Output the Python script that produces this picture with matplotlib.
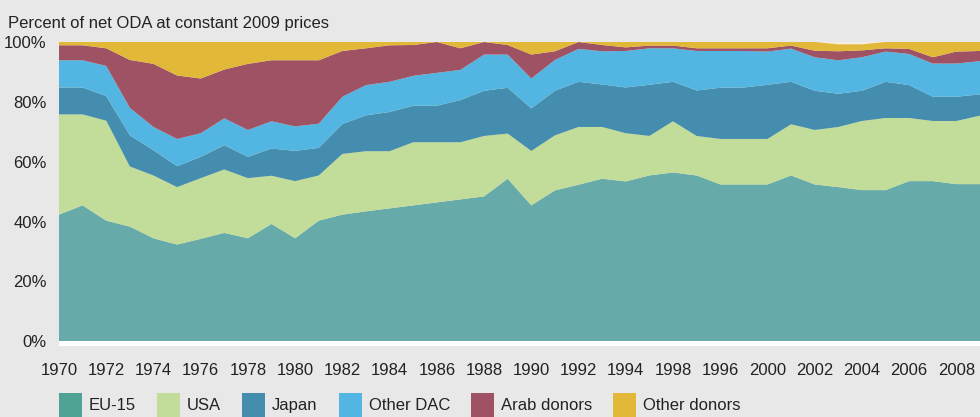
import numpy as np
import matplotlib.pyplot as plt
from matplotlib.patches import Patch

plt.rcParams['font.family'] = ['Liberation Sans', 'DejaVu Sans']

years = list(range(1970, 2010))

# shares of net ODA (percent)
eu15 = [42.3, 45.4, 40.3, 38.3, 34.4, 32.3, 34.2, 36.2, 34.4, 39.2,
        34.4, 40.3, 42.3, 43.4, 44.4, 45.4, 46.4, 47.4, 48.4, 54.3,
        45.4, 50.4, 52.3, 54.3, 53.4, 55.4, 56.4, 55.4, 52.4, 52.4,
        52.4, 55.4, 52.4, 51.5, 50.5, 50.5, 53.5, 53.5, 52.5, 52.5]
usa = [33.5, 30.4, 33.4, 20.1, 21.0, 19.2, 20.3, 21.2, 20.1, 16.1,
       19.1, 15.1, 20.3, 20.1, 19.1, 21.1, 20.1, 19.1, 20.2, 15.1,
       18.2, 18.4, 19.3, 17.3, 16.1, 13.2, 17.1, 13.2, 15.2, 15.2,
       15.2, 17.1, 18.2, 20.1, 23.1, 24.1, 21.1, 20.1, 21.1, 22.9]
japan = [9.0, 9.0, 8.2, 10.4, 8.4, 7.0, 7.1, 8.1, 7.1, 9.1,
         10.1, 9.2, 10.0, 12.0, 13.1, 12.2, 12.2, 14.1, 15.1, 15.3,
         14.2, 14.9, 15.1, 14.2, 15.3, 17.1, 13.2, 15.2, 17.1, 17.2,
         18.1, 14.2, 13.1, 11.1, 10.1, 12.1, 11.0, 8.1, 8.1, 7.1]
other_dac = [9.1, 9.1, 10.1, 9.2, 7.8, 9.1, 7.9, 9.0, 9.0, 9.1,
             8.2, 8.1, 9.1, 10.1, 10.1, 10.0, 11.0, 10.1, 12.1, 11.1,
             10.0, 10.3, 11.0, 11.1, 12.2, 12.2, 11.2, 13.2, 12.3, 12.2,
             11.1, 11.1, 11.2, 11.2, 11.2, 10.1, 10.4, 11.1, 11.1, 11.1]
arab = [5.0, 5.0, 5.9, 16.0, 21.1, 21.2, 18.3, 16.3, 22.1, 20.4,
        22.1, 21.2, 15.3, 12.3, 12.2, 10.3, 10.3, 7.2, 4.2, 3.2,
        8.0, 2.9, 2.3, 2.1, 1.2, 0.9, 0.9, 0.9, 0.9, 0.9,
        1.1, 1.0, 2.2, 3.0, 2.3, 1.1, 1.7, 2.1, 4.0, 3.4]
other_donors = [1.1, 1.1, 2.1, 6.0, 7.3, 11.2, 12.2, 9.2, 7.3, 6.1,
                6.1, 6.1, 3.0, 2.1, 1.1, 1.0, 0.0, 2.1, 0.0, 1.0,
                4.2, 3.1, 0.0, 1.0, 1.8, 1.2, 1.2, 2.1, 2.1, 2.1,
                2.1, 1.2, 2.9, 2.3, 2.0, 2.1, 2.3, 5.1, 3.2, 3.0]

labels = ['EU-15', 'USA', 'Japan', 'Other DAC', 'Arab donors', 'Other donors']
colors = ['#66aba9', '#c2dd9a', '#448daf', '#52b5e2', '#a05265', '#e2b838']
legend_colors = ['#4ea394', '#c2dd9a', '#448daf', '#52b5e2', '#a05265', '#e2b838']

xtick_years = list(range(1970, 2009, 2))
xtick_labels = ['1970', '1972', '1974', '1976', '1978', '1980', '1982', '1984',
                '1986', '1988', '1990', '1992', '1994', '1998', '1996', '2000',
                '2002', '2004', '2006', '2008']
ytick_vals = [0, 20, 40, 60, 80, 100]

bg = '#e8e8e8'
txt = '#222222'
fs = 12

fig = plt.figure(figsize=(9.8, 4.17), dpi=100, facecolor=bg)
ax = fig.add_axes([59 / 980, 1 - 346 / 417, 1 - 59 / 980, (346 - 42) / 417])
ax.set_facecolor('#f5eddd')

ax.stackplot(years, eu15, usa, japan, other_dac, arab, other_donors,
             colors=colors, linewidth=0)
ax.axhspan(-1.6, 0, color='white', zorder=3, lw=0)

ax.set_xlim(1970, 2009)
ax.set_ylim(-1.6, 100)
for s in ax.spines.values():
    s.set_visible(False)

ax.set_xticks(xtick_years)
ax.set_xticklabels(xtick_labels)
ax.set_yticks(ytick_vals)
ax.set_yticklabels([f'{v}%' for v in ytick_vals])
ax.tick_params(axis='both', length=0, labelsize=fs, colors=txt)
ax.tick_params(axis='x', pad=12.5)
ax.tick_params(axis='y', pad=8.9)

fig.text(8 / 980, 1 - 28 / 417, 'Percent of net ODA at constant 2009 prices',
         fontsize=fs, color=txt, ha='left', va='baseline')

handles = [Patch(facecolor=c, edgecolor='none') for c in legend_colors]
fig.legend(handles, labels, loc='upper left', ncol=6,
           bbox_to_anchor=(59 / 980, 1 - 393 / 417), frameon=False,
           fontsize=fs, labelcolor=txt, borderpad=0, borderaxespad=0,
           handlelength=1.38, handleheight=1.8, handletextpad=0.42,
           columnspacing=1.26)

fig.savefig('out.png', dpi=100, facecolor=bg)
